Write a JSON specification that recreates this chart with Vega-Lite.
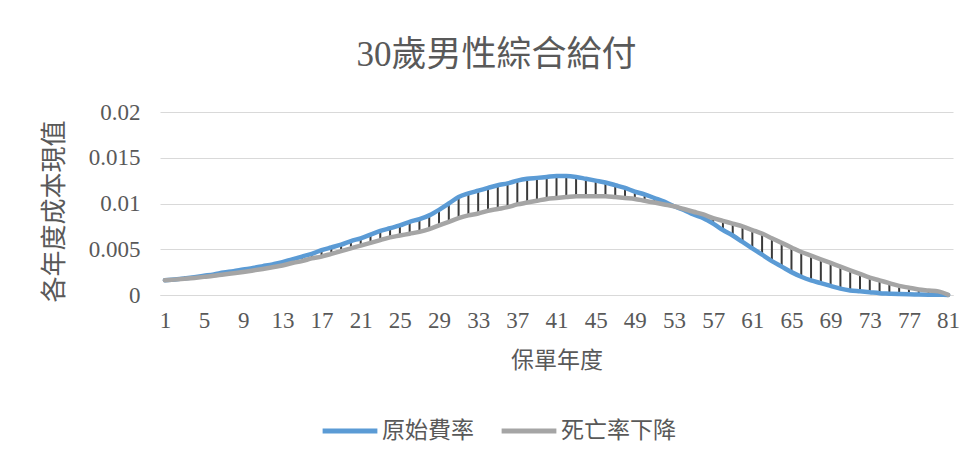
{
  "$schema": "https://vega.github.io/schema/vega-lite/v6.json",
  "width": 793,
  "height": 183,
  "autosize": {"type": "none"},
  "padding": {"left": 160, "top": 112, "right": 24, "bottom": 162},
  "background": "white",
  "title": {
    "text": "30歲男性綜合給付",
    "font": "Liberation Serif, Noto Sans CJK TC",
    "fontSize": 35,
    "fontWeight": "normal",
    "color": "#595959",
    "offset": 28,
    "dx": -60
  },
  "data": {
    "values": [
      {"year": 1, "orig": 0.0016, "decl": 0.0016},
      {"year": 2, "orig": 0.0017, "decl": 0.00168},
      {"year": 3, "orig": 0.00182, "decl": 0.00177},
      {"year": 4, "orig": 0.00195, "decl": 0.00187},
      {"year": 5, "orig": 0.0021, "decl": 0.00198},
      {"year": 6, "orig": 0.00225, "decl": 0.0021},
      {"year": 7, "orig": 0.00245, "decl": 0.00225},
      {"year": 8, "orig": 0.0026, "decl": 0.00238},
      {"year": 9, "orig": 0.00278, "decl": 0.00252},
      {"year": 10, "orig": 0.00295, "decl": 0.00268},
      {"year": 11, "orig": 0.00315, "decl": 0.00285},
      {"year": 12, "orig": 0.00335, "decl": 0.00303},
      {"year": 13, "orig": 0.00358, "decl": 0.00322},
      {"year": 14, "orig": 0.0039, "decl": 0.0035},
      {"year": 15, "orig": 0.0042, "decl": 0.0037},
      {"year": 16, "orig": 0.0045, "decl": 0.004},
      {"year": 17, "orig": 0.0049, "decl": 0.0042},
      {"year": 18, "orig": 0.0052, "decl": 0.0045},
      {"year": 19, "orig": 0.0055, "decl": 0.0048},
      {"year": 20, "orig": 0.0059, "decl": 0.0051},
      {"year": 21, "orig": 0.0062, "decl": 0.0054},
      {"year": 22, "orig": 0.0066, "decl": 0.0057},
      {"year": 23, "orig": 0.007, "decl": 0.006},
      {"year": 24, "orig": 0.0073, "decl": 0.0063},
      {"year": 25, "orig": 0.0076, "decl": 0.0065},
      {"year": 26, "orig": 0.008, "decl": 0.0067},
      {"year": 27, "orig": 0.0083, "decl": 0.0069},
      {"year": 28, "orig": 0.0087, "decl": 0.0072},
      {"year": 29, "orig": 0.0093, "decl": 0.0076},
      {"year": 30, "orig": 0.01, "decl": 0.008},
      {"year": 31, "orig": 0.0107, "decl": 0.0084},
      {"year": 32, "orig": 0.0111, "decl": 0.0087},
      {"year": 33, "orig": 0.0114, "decl": 0.0089},
      {"year": 34, "orig": 0.0117, "decl": 0.0092},
      {"year": 35, "orig": 0.012, "decl": 0.0094},
      {"year": 36, "orig": 0.0122, "decl": 0.0096},
      {"year": 37, "orig": 0.0125, "decl": 0.0099},
      {"year": 38, "orig": 0.0127, "decl": 0.0101},
      {"year": 39, "orig": 0.0128, "decl": 0.0103},
      {"year": 40, "orig": 0.0129, "decl": 0.0105},
      {"year": 41, "orig": 0.013, "decl": 0.0106},
      {"year": 42, "orig": 0.013, "decl": 0.0107},
      {"year": 43, "orig": 0.0129, "decl": 0.0108},
      {"year": 44, "orig": 0.0127, "decl": 0.0108},
      {"year": 45, "orig": 0.0125, "decl": 0.0108},
      {"year": 46, "orig": 0.0123, "decl": 0.0108},
      {"year": 47, "orig": 0.012, "decl": 0.0107},
      {"year": 48, "orig": 0.0117, "decl": 0.0106},
      {"year": 49, "orig": 0.0113, "decl": 0.0105},
      {"year": 50, "orig": 0.011, "decl": 0.0103},
      {"year": 51, "orig": 0.0106, "decl": 0.0101},
      {"year": 52, "orig": 0.0102, "decl": 0.0099},
      {"year": 53, "orig": 0.0097, "decl": 0.0097},
      {"year": 54, "orig": 0.0093, "decl": 0.0094},
      {"year": 55, "orig": 0.0088, "decl": 0.0091},
      {"year": 56, "orig": 0.0084, "decl": 0.0088},
      {"year": 57, "orig": 0.0078, "decl": 0.0084},
      {"year": 58, "orig": 0.0071, "decl": 0.0081},
      {"year": 59, "orig": 0.0065, "decl": 0.0078},
      {"year": 60, "orig": 0.0058, "decl": 0.0075},
      {"year": 61, "orig": 0.0051, "decl": 0.0071},
      {"year": 62, "orig": 0.0044, "decl": 0.0067},
      {"year": 63, "orig": 0.0037, "decl": 0.0062},
      {"year": 64, "orig": 0.0031, "decl": 0.0057},
      {"year": 65, "orig": 0.0025, "decl": 0.0052},
      {"year": 66, "orig": 0.002, "decl": 0.0047},
      {"year": 67, "orig": 0.0016, "decl": 0.0043},
      {"year": 68, "orig": 0.0013, "decl": 0.0039},
      {"year": 69, "orig": 0.001, "decl": 0.0035},
      {"year": 70, "orig": 0.0007, "decl": 0.0031},
      {"year": 71, "orig": 0.0005, "decl": 0.0027},
      {"year": 72, "orig": 0.0004, "decl": 0.0023},
      {"year": 73, "orig": 0.0003, "decl": 0.0019},
      {"year": 74, "orig": 0.0002, "decl": 0.0016},
      {"year": 75, "orig": 0.00015, "decl": 0.0013},
      {"year": 76, "orig": 0.0001, "decl": 0.001},
      {"year": 77, "orig": 0.00007, "decl": 0.0008},
      {"year": 78, "orig": 0.00005, "decl": 0.0006},
      {"year": 79, "orig": 0.00003, "decl": 0.0005},
      {"year": 80, "orig": 0.00002, "decl": 0.0004},
      {"year": 81, "orig": 0.00001, "decl": 0.00002}
    ]
  },
  "config": {
    "view": {"stroke": null},
    "font": "Liberation Serif, Noto Sans CJK TC",
    "axis": {
      "labelFont": "Liberation Serif, Noto Sans CJK TC",
      "titleFont": "Liberation Serif, Noto Sans CJK TC",
      "labelColor": "#595959",
      "titleColor": "#595959",
      "labelFontSize": 23,
      "titleFontSize": 23,
      "titleFontWeight": "normal",
      "ticks": false,
      "gridColor": "#d9d9d9",
      "gridWidth": 1,
      "labelOverlap": false
    },
    "axisX": {"labelOverlap": false, "labelBound": false},
    "legend": {
      "labelFont": "Liberation Serif, Noto Sans CJK TC",
      "labelFontSize": 23,
      "labelColor": "#595959"
    }
  },
  "encoding": {
    "x": {
      "field": "year",
      "type": "quantitative",
      "scale": {"domain": [0.5, 81.5], "nice": false, "zero": false},
      "axis": {
        "values": [1, 5, 9, 13, 17, 21, 25, 29, 33, 37, 41, 45, 49, 53, 57, 61, 65, 69, 73, 77, 81],
        "title": "保單年度",
        "grid": false,
        "domainColor": "#d9d9d9",
        "domainWidth": 1,
        "labelPadding": 14,
        "titlePadding": 17,
        "labelFlush": false,
        "labelOverlap": false
      }
    }
  },
  "layer": [
    {
      "mark": {"type": "rule", "color": "#3a3a3a", "strokeWidth": 2},
      "encoding": {
        "y": {"field": "orig", "type": "quantitative"},
        "y2": {"field": "decl"}
      }
    },
    {
      "transform": [
        {"fold": ["orig", "decl"], "as": ["key", "value"]},
        {"lookup": "key", "from": {"data": {"values": [{"key": "orig", "series": "原始費率"}, {"key": "decl", "series": "死亡率下降"}]}, "key": "key", "fields": ["series"]}}
      ],
      "mark": {"type": "line", "strokeWidth": 4.5, "strokeCap": "round", "strokeJoin": "round", "interpolate": "monotone"},
      "encoding": {
        "y": {
          "field": "value",
          "type": "quantitative",
          "scale": {"domain": [0, 0.02], "nice": false},
          "axis": {
            "values": [0, 0.005, 0.01, 0.015, 0.02],
            "format": "~g",
            "title": "各年度成本現值",
            "titleFontSize": 26,
            "titleY": 99,
            "domain": false,
            "labelPadding": 20,
            "titlePadding": 21
          }
        },
        "color": {
          "field": "series",
          "type": "nominal",
          "scale": {"domain": ["原始費率", "死亡率下降"], "range": ["#5b9bd5", "#a5a5a5"]},
          "legend": {
            "title": null,
            "orient": "none",
            "direction": "horizontal",
            "legendX": 160,
            "legendY": 289,
            "symbolType": "stroke",
            "symbolSize": 3000,
            "symbolStrokeWidth": 5,
            "columnPadding": 17,
            "labelOffset": 2
          }
        }
      }
    }
  ]
}
